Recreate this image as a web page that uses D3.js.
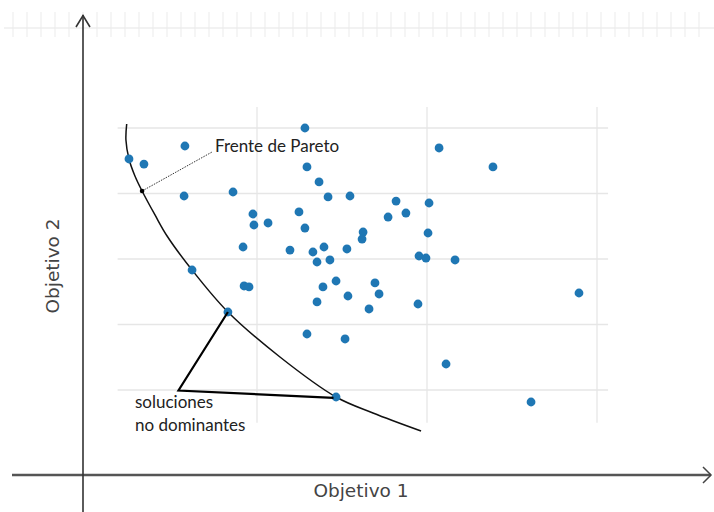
<!DOCTYPE html>
<html><head><meta charset="utf-8">
<script src="https://cdn.jsdelivr.net/npm/d3@7"></script>
<style>body{margin:0;background:#fff}svg{display:block}</style>
</head><body>
<svg id="chart" width="714" height="512"></svg>
<script>
// Dominated / non-dominated solutions (Objetivo 1, Objetivo 2)
const solX = [1.282,0.576,0.247,0.335,1.294,2.071,2.388,1.365,0.571,0.859,1.418,1.547,0.976,0.982,1.065,1.247,1.282,1.818,2.012,1.876,1.771,1.624,1.618,2.006,0.918,1.194,1.329,1.394,1.529,1.953,1.994,2.165,1.353,1.429,0.618,0.924,0.953,1.465,1.388,1.694,1.535,1.718,1.353,1.659,1.947,2.894,0.829,1.294,1.518,2.112,2.612,1.465];
const solY = [5.00,4.725,4.527,4.45,4.405,4.695,4.405,4.176,3.962,4.023,3.947,3.962,3.687,3.519,3.550,3.718,3.473,3.885,3.855,3.702,3.641,3.412,3.305,3.397,3.183,3.137,3.107,3.183,3.153,3.046,3.015,2.985,2.954,2.985,2.832,2.588,2.573,2.664,2.573,2.634,2.435,2.466,2.344,2.237,2.313,2.481,2.191,1.855,1.779,1.397,0.817,0.893];
// Pareto front curve
const frontX = [0.2335,0.229,0.247,0.282,0.324,0.40,0.471,0.618,0.829,1.135,1.465,1.682,1.965];
const frontY = [5.061,4.817,4.527,4.267,4.038,3.672,3.351,2.832,2.191,1.504,0.893,0.649,0.374];
const xTicks = [1,2,3];
const yTicks = [1,2,3,4,5];
const labels = {x:"Objetivo 1", y:"Objetivo 2", front:"Frente de Pareto", nd1:"soluciones", nd2:"no dominantes"};

const svg = d3.select("#chart");
const x = d3.scaleLinear().domain([0,3]).range([87,597]);
const y = d3.scaleLinear().domain([0,5]).range([455.5,128]);

// faint top band
const band = svg.append("g");
band.append("line").attr("x1",4).attr("x2",714).attr("y1",28).attr("y2",28).attr("stroke","#f2f2f2").attr("stroke-width",2);
band.selectAll("line.v").data(d3.range(13,712,14)).join("line").attr("class","v")
  .attr("x1",d=>d).attr("x2",d=>d).attr("y1",12).attr("y2",37).attr("stroke","#ebebeb").attr("stroke-width",1);

// grid
const g = svg.append("g");
g.selectAll("line.gx").data(xTicks).join("line").attr("class","gx")
  .attr("x1",d=>x(d)).attr("x2",d=>x(d)).attr("y1",y(5.32)).attr("y2",y(0.5))
  .attr("stroke","#e6e6e6").attr("stroke-width",1.3);
g.selectAll("line.gy").data(yTicks).join("line").attr("class","gy")
  .attr("x1",x(0.18)).attr("x2",x(3.065)).attr("y1",d=>y(d)).attr("y2",d=>y(d))
  .attr("stroke","#e6e6e6").attr("stroke-width",1.3);

// axes with arrows
svg.append("line").attr("x1",12).attr("x2",711).attr("y1",475).attr("y2",475).attr("stroke","#555").attr("stroke-width",2.5);
svg.append("path").attr("d","M703,467 L711,475 L703,483").attr("fill","none").attr("stroke","#444").attr("stroke-width",1.5);
svg.append("line").attr("x1",83).attr("x2",83).attr("y1",15).attr("y2",512).attr("stroke","#333").attr("stroke-width",1.6);
svg.append("path").attr("d","M76,27 L83,15.5 L90,27").attr("fill","none").attr("stroke","#333").attr("stroke-width",1.6);

// axis labels
svg.append("text").attr("x",361).attr("y",497).attr("text-anchor","middle")
  .attr("font-family","DejaVu Sans").attr("font-size",18.5).attr("fill","#444").text(labels.x);
svg.append("text").attr("transform","translate(59,266) rotate(-90)").attr("text-anchor","middle")
  .attr("font-family","DejaVu Sans").attr("font-size",18.5).attr("fill","#444").text(labels.y);

// Pareto front
const front = frontX.map((d,i)=>[d,frontY[i]]);
svg.append("path").datum(front)
  .attr("d", d3.line().x(d=>x(d[0])).y(d=>y(d[1])).curve(d3.curveCatmullRom))
  .attr("fill","none").attr("stroke","#111").attr("stroke-width",1.5);

// points
svg.append("g").selectAll("circle").data(solX.map((d,i)=>[d,solY[i]])).join("circle")
  .attr("cx",d=>x(d[0])).attr("cy",d=>y(d[1])).attr("r",4.4).attr("fill","#1f77b4");

// Pareto label pointer
svg.append("line").attr("x1",x(0.324)).attr("y1",y(4.038)).attr("x2",x(0.74)).attr("y2",y(4.64))
  .attr("stroke","#333").attr("stroke-width",1).attr("stroke-dasharray","1.5,1.2");
svg.append("circle").attr("cx",x(0.324)).attr("cy",y(4.038)).attr("r",2.3).attr("fill","#000");
svg.append("text").attr("x",215).attr("y",152).attr("font-family","Lato").attr("font-size",17).attr("fill","#222").text(labels.front);

// non-dominated solutions annotation
const apex = [0.538,0.992];
svg.append("path").attr("d",`M${x(0.829)},${y(2.191)} L${x(apex[0])},${y(apex[1])} L${x(1.45)},${y(0.88)}`)
  .attr("fill","none").attr("stroke","#000").attr("stroke-width",2.2).attr("stroke-linejoin","miter");
svg.append("text").attr("x",135).attr("y",408).attr("font-family","Lato").attr("font-size",17).attr("fill","#222").text(labels.nd1);
svg.append("text").attr("x",135).attr("y",431).attr("font-family","Lato").attr("font-size",17).attr("fill","#222").text(labels.nd2);
</script>
</body></html>
